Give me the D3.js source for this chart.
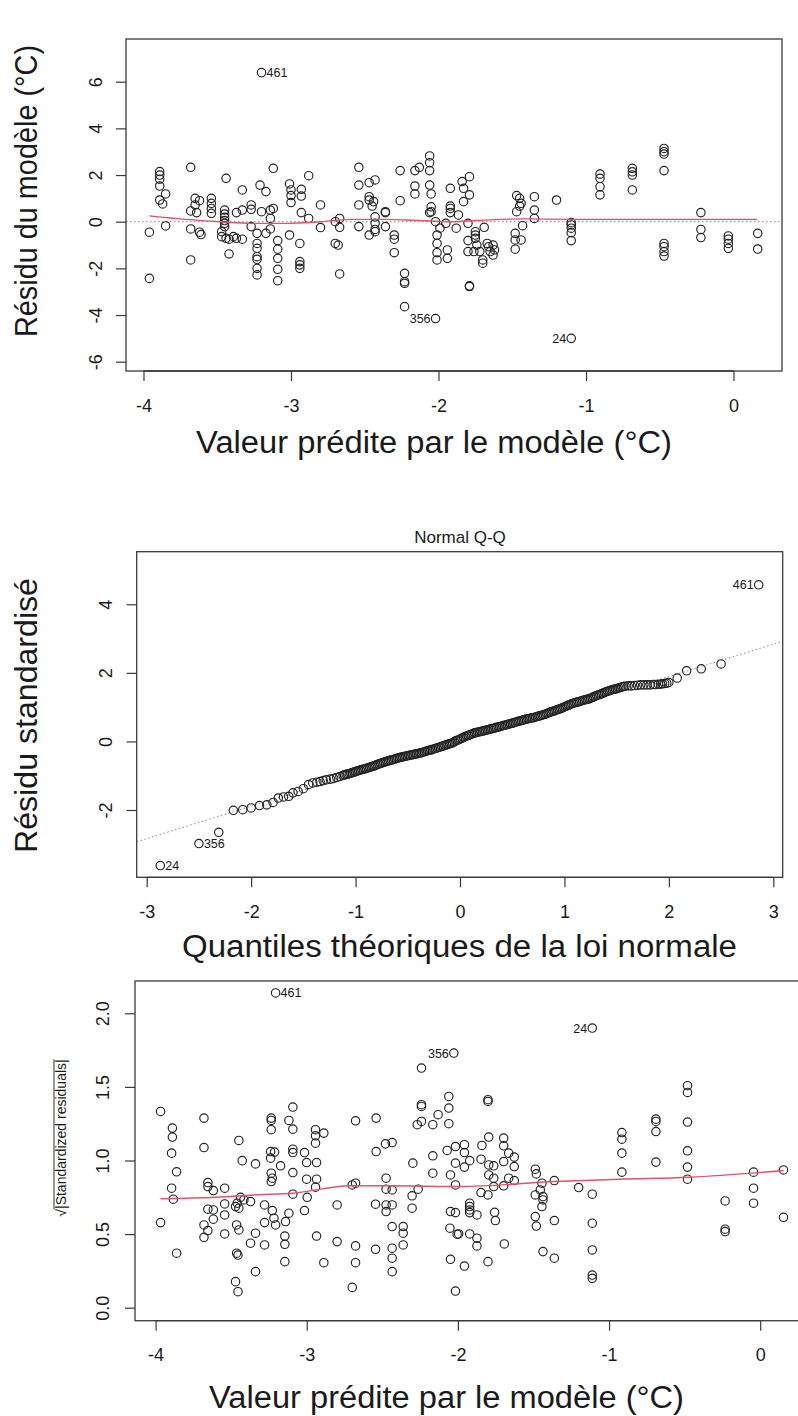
<!DOCTYPE html>
<html>
<head>
<meta charset="utf-8">
<script src="https://cdn.jsdelivr.net/npm/d3@7"></script>
<style>
  body { margin: 0; background: #fff; }
  svg { display: block; background: #fff; }
</style>
</head>
<body>
<svg id="chart" width="798" height="1416"></svg>
<script>
// ---- data ----
var fittedTicks = [-4, -3, -2, -1, 0];
var residTicks = [-6, -4, -2, 0, 2, 4, 6];
var qqTicksX = [-3, -2, -1, 0, 1, 2, 3];
var qqTicksY = [-2, 0, 2, 4];
var scaleTicks = [0, 0.5, 1, 1.5, 2];

// [fitted, residual]
var residPoints = [
  [-3.20, 6.39],
  [-3.96, -0.45], [-3.96, -2.43],
  [-3.89, 2.15], [-3.89, 2.00], [-3.89, 1.82], [-3.89, 1.53], [-3.85, 1.19], [-3.89, 0.93], [-3.87, 0.76], [-3.85, -0.18],
  [-3.68, 2.33],
  [-3.68, 0.46], [-3.65, 1.00], [-3.65, 0.72], [-3.62, 0.90], [-3.64, 0.39], [-3.68, -0.31], [-3.62, -0.45], [-3.61, -0.55], [-3.68, -1.64],
  [-3.54, 1.00], [-3.54, 0.79], [-3.54, 0.57], [-3.54, 0.36],
  [-3.44, 1.86],
  [-3.45, 0.50], [-3.45, 0.33], [-3.45, 0.19], [-3.45, 0.05], [-3.45, -0.07], [-3.45, -0.21], [-3.47, -0.43], [-3.47, -0.64],
  [-3.44, -0.71], [-3.42, -0.75], [-3.39, -0.64], [-3.37, -0.71], [-3.33, -0.75], [-3.37, 0.39], [-3.33, 0.50],
  [-3.42, -1.38], [-3.33, 1.36],
  [-3.27, 0.72], [-3.27, 0.53], [-3.27, -0.21], [-3.20, 0.43], [-3.21, 1.57], [-3.17, 1.29],
  [-3.23, -0.50], [-3.23, -0.93], [-3.23, -1.14], [-3.23, -1.50], [-3.23, -1.61], [-3.23, -2.00], [-3.23, -2.28],
  [-3.17, -0.50], [-3.14, -0.31], [-3.14, 0.50], [-3.12, 0.57], [-3.14, 0.14], [-3.12, 2.29],
  [-3.09, -0.81], [-3.09, -1.18], [-3.09, -1.57], [-3.09, -2.04], [-3.09, -2.53],
  [-3.01, 1.62], [-3.00, 1.36], [-3.00, 1.12], [-3.00, 0.82], [-2.93, 1.39], [-2.93, 1.10], [-2.88, 1.97], [-2.93, 0.39], [-2.88, 0.14],
  [-3.01, -0.57], [-2.94, -0.93], [-2.94, -1.71], [-2.94, -1.85], [-2.94, -2.00],
  [-2.80, 0.72], [-2.80, -0.25],
  [-2.70, 0.00], [-2.67, 0.14], [-2.67, -0.24], [-2.70, -0.93], [-2.68, -1.00], [-2.67, -2.24],
  [-2.54, 2.33], [-2.54, 1.57], [-2.47, 1.67], [-2.43, 1.79], [-2.54, 0.72], [-2.47, 1.07], [-2.47, 0.93], [-2.44, 0.86], [-2.45, 0.67],
  [-2.43, 0.21], [-2.43, -0.07], [-2.43, -0.33], [-2.47, -0.57], [-2.54, -0.21], [-2.36, 0.43], [-2.36, 0.39], [-2.36, -0.21], [-2.43, -0.43],
  [-2.30, -0.57], [-2.30, -0.75], [-2.30, -1.33],
  [-2.26, 2.19], [-2.26, 0.90],
  [-2.23, -2.21], [-2.23, -2.57], [-2.23, -2.64], [-2.23, -3.64],
  [-2.02, -4.15],
  [-2.16, 2.19], [-2.13, 2.33], [-2.16, 1.53], [-2.16, 1.19],
  [-2.06, 2.82], [-2.06, 2.53], [-2.06, 2.19], [-2.06, 1.57], [-2.05, 1.19], [-2.05, 0.64], [-2.05, 0.43], [-2.06, 0.39],
  [-2.02, 0.00], [-1.99, -0.28], [-2.01, -0.57], [-2.01, -0.93], [-2.01, -1.33], [-2.01, -1.64], [-1.94, -1.21], [-1.94, -1.57],
  [-1.95, -0.07], [-1.92, 1.43], [-1.92, 0.67], [-1.92, 0.57], [-1.92, 0.39], [-1.88, -0.28], [-1.865, 0.29],
  [-1.84, 1.72], [-1.83, 1.43], [-1.83, 0.86], [-1.79, 1.93], [-1.79, 1.15], [-1.80, -0.07], [-1.80, -0.81], [-1.80, -1.28],
  [-1.79, -2.75], [-1.79, -2.78],
  [-1.75, -0.43], [-1.75, -0.71], [-1.75, -0.57], [-1.74, -1.00], [-1.72, -1.28], [-1.70, -1.64], [-1.70, -1.78], [-1.69, -0.24],
  [-1.67, -0.93], [-1.66, -1.07], [-1.65, -1.28], [-1.63, -1.00], [-1.63, -1.43], [-1.62, -1.21], [-1.76, -1.28],
  [-1.47, 1.12], [-1.45, 1.00], [-1.44, 0.79], [-1.45, 0.67], [-1.47, 0.43], [-1.43, -0.17], [-1.48, -0.50], [-1.48, -0.78],
  [-1.48, -1.18], [-1.44, -0.78], [-1.35, 1.07], [-1.35, 0.50], [-1.35, 0.14],
  [-1.20, 0.93],
  [-1.10, -0.04], [-1.10, -0.14], [-1.10, -0.28], [-1.10, -0.47], [-1.10, -0.81],
  [-1.10, -5.00],
  [-0.905, 2.04], [-0.905, 1.86], [-0.905, 1.50], [-0.905, 1.15],
  [-0.686, 2.29], [-0.686, 2.14], [-0.686, 2.00], [-0.686, 1.36],
  [-0.471, 3.14], [-0.471, 3.00], [-0.471, 2.90], [-0.471, 2.19], [-0.471, -0.93], [-0.471, -1.07], [-0.471, -1.28], [-0.471, -1.47],
  [-0.221, 0.39], [-0.221, -0.33], [-0.221, -0.68],
  [-0.035, -0.61], [-0.035, -0.75], [-0.035, -0.93], [-0.035, -1.14],
  [0.164, -0.50], [0.164, -1.17]
];
var residLabels = [
  { x: -3.20, y: 6.39, text: '461', side: 'right' },
  { x: -2.02, y: -4.15, text: '356', side: 'left' },
  { x: -1.10, y: -5.00, text: '24', side: 'left' }
];
var residSmooth = [
  [-3.96, 0.25], [-3.71, 0.10], [-3.48, 0.00], [-3.26, -0.07], [-3.03, -0.07], [-2.80, 0.00], [-2.58, 0.10],
  [-2.35, 0.10], [-2.13, 0.05], [-1.90, 0.00], [-1.76, 0.05], [-1.43, 0.12], [-1.09, 0.10], [-0.63, 0.10], [0.16, 0.10]
];

// [theoretical quantile, standardized residual]
var qqPoints = [
  [-2.87, -3.62], [-2.50, -2.98], [-2.31, -2.65], [-2.17, -2.01], [-2.08, -1.99], [-2.00, -1.94], [-1.92, -1.87],
  [-1.85, -1.85], [-1.79, -1.78], [-1.74, -1.65], [-1.69, -1.62], [-1.64, -1.60], [-1.60, -1.50], [-1.55, -1.46],
  [-1.50, -1.38], [-1.45, -1.26], [-1.41, -1.21], [-1.37, -1.19], [-1.34, -1.17], [-1.31, -1.14], [-1.28, -1.12],
  [-1.24, -1.10], [-1.21, -1.08], [-1.18, -1.05], [-1.15, -1.02],
  [-1.12, -0.99], [-1.09, -0.96], [-1.06, -0.94], [-1.03, -0.91], [-1.00, -0.88], [-0.97, -0.85], [-0.94, -0.82],
  [-0.91, -0.80], [-0.88, -0.77], [-0.85, -0.74], [-0.82, -0.71], [-0.79, -0.67], [-0.76, -0.64], [-0.73, -0.61],
  [-0.70, -0.58], [-0.67, -0.55], [-0.64, -0.53], [-0.61, -0.50], [-0.58, -0.47], [-0.55, -0.45], [-0.52, -0.43],
  [-0.49, -0.41], [-0.46, -0.39], [-0.43, -0.37], [-0.40, -0.35], [-0.37, -0.33], [-0.34, -0.30], [-0.31, -0.27],
  [-0.28, -0.25], [-0.25, -0.22], [-0.22, -0.19], [-0.19, -0.16], [-0.16, -0.13], [-0.13, -0.10], [-0.10, -0.07],
  [-0.07, -0.04], [-0.04, 0.02], [-0.01, 0.05], [0.02, 0.10], [0.05, 0.14], [0.08, 0.18], [0.11, 0.21],
  [0.14, 0.25], [0.17, 0.27], [0.20, 0.29], [0.23, 0.31], [0.26, 0.34], [0.29, 0.36], [0.32, 0.38],
  [0.35, 0.41], [0.38, 0.43], [0.41, 0.46], [0.44, 0.48], [0.47, 0.51], [0.50, 0.53], [0.53, 0.56],
  [0.56, 0.59], [0.59, 0.61], [0.62, 0.64], [0.65, 0.66], [0.68, 0.68], [0.71, 0.70], [0.74, 0.73],
  [0.77, 0.75], [0.80, 0.78], [0.83, 0.81], [0.86, 0.85], [0.89, 0.88], [0.92, 0.91], [0.95, 0.945],
  [0.98, 0.98], [1.01, 1.02], [1.04, 1.06], [1.07, 1.10], [1.10, 1.13], [1.13, 1.15], [1.16, 1.18],
  [1.19, 1.21], [1.22, 1.23], [1.25, 1.26], [1.28, 1.30], [1.31, 1.34], [1.34, 1.37], [1.37, 1.41],
  [1.40, 1.45], [1.43, 1.48], [1.46, 1.51], [1.49, 1.53], [1.52, 1.56], [1.55, 1.59], [1.58, 1.61],
  [1.61, 1.62], [1.64, 1.62], [1.67, 1.63], [1.70, 1.64], [1.73, 1.65], [1.76, 1.65], [1.79, 1.65],
  [1.82, 1.65], [1.85, 1.66], [1.87, 1.66], [1.90, 1.67], [1.92, 1.67], [1.94, 1.68], [1.96, 1.69],
  [1.98, 1.70], [2.00, 1.72], [2.08, 1.85], [2.17, 2.06], [2.31, 2.12], [2.50, 2.26], [2.86, 4.57],
  // the dense middle of the band, read at finer spacing
  [-1.105, -0.975], [-1.075, -0.95], [-1.045, -0.925], [-1.015, -0.895], [-0.985, -0.865], [-0.955, -0.835],
  [-0.925, -0.81], [-0.895, -0.785], [-0.865, -0.755], [-0.835, -0.725], [-0.805, -0.69], [-0.775, -0.655],
  [-0.745, -0.625], [-0.715, -0.595], [-0.685, -0.565], [-0.655, -0.54], [-0.625, -0.515], [-0.595, -0.485],
  [-0.565, -0.46], [-0.535, -0.44], [-0.505, -0.42], [-0.475, -0.40], [-0.445, -0.38], [-0.415, -0.36],
  [-0.385, -0.34], [-0.355, -0.315], [-0.325, -0.285], [-0.295, -0.26], [-0.265, -0.235], [-0.235, -0.205],
  [-0.205, -0.175], [-0.175, -0.145], [-0.145, -0.115], [-0.115, -0.085], [-0.085, -0.055], [-0.055, -0.01],
  [-0.025, 0.035], [0.005, 0.075], [0.035, 0.12], [0.065, 0.16], [0.095, 0.195], [0.125, 0.23],
  [0.155, 0.26], [0.185, 0.28], [0.215, 0.30], [0.245, 0.325], [0.275, 0.35], [0.305, 0.37],
  [0.335, 0.395], [0.365, 0.42], [0.395, 0.445], [0.425, 0.47], [0.455, 0.495], [0.485, 0.52],
  [0.515, 0.545], [0.545, 0.575], [0.575, 0.60], [0.605, 0.625], [0.635, 0.65], [0.665, 0.67],
  [0.695, 0.69], [0.725, 0.715], [0.755, 0.74], [0.785, 0.765], [0.815, 0.795], [0.845, 0.83],
  [0.875, 0.865], [0.905, 0.895], [0.935, 0.93], [0.965, 0.96], [0.995, 1.00], [1.025, 1.04],
  [1.055, 1.08], [1.085, 1.115], [1.115, 1.14], [1.145, 1.165], [1.175, 1.195], [1.205, 1.22],
  [1.235, 1.245], [1.265, 1.28], [1.295, 1.32], [1.325, 1.355], [1.355, 1.39], [1.385, 1.43],
  [1.415, 1.465], [1.445, 1.495], [1.475, 1.52], [1.505, 1.545], [1.535, 1.575], [1.565, 1.60]
];
var qqLabels = [
  { x: -2.87, y: -3.62, text: '24', side: 'right' },
  { x: -2.50, y: -2.98, text: '356', side: 'right' },
  { x: 2.86, y: 4.57, text: '461', side: 'left' }
];
var qqLine = { intercept: 0.0, slope: 0.945 };

// [fitted, sqrt(|standardized residual|)]
var scalePoints = [
  [-3.206, 2.138], [-2.027, 1.73], [-1.111, 1.90],
  [-3.967, 1.333], [-3.967, 0.578],
  [-3.889, 1.220], [-3.889, 1.159], [-3.894, 1.05], [-3.861, 0.923], [-3.894, 0.812], [-3.883, 0.737], [-3.861, 0.37],
  [-3.68, 1.288], [-3.68, 1.088], [-3.654, 0.85], [-3.654, 0.823], [-3.618, 0.796], [-3.654, 0.669], [-3.618, 0.664],
  [-3.68, 0.562], [-3.654, 0.524], [-3.68, 0.478], [-3.618, 0.601], [-3.543, 0.812], [-3.543, 0.705], [-3.543, 0.63], [-3.543, 0.501],
  [-3.449, 1.136], [-3.427, 0.999], [-3.46, 0.71], [-3.438, 0.75], [-3.416, 0.732], [-3.471, 0.687], [-3.449, 0.676],
  [-3.372, 0.721], [-3.339, 0.977], [-3.464, 0.562], [-3.449, 0.528], [-3.464, 0.37], [-3.455, 0.358], [-3.471, 0.177],
  [-3.455, 0.109], [-3.372, 0.438], [-3.339, 0.506], [-3.339, 0.245],
  [-3.235, 1.288], [-3.235, 1.272], [-3.235, 1.209], [-3.239, 1.061], [-3.213, 1.057], [-3.239, 1.016], [-3.235, 0.914],
  [-3.228, 0.880], [-3.235, 0.857], [-3.173, 0.964], [-3.279, 0.698], [-3.228, 0.66], [-3.217, 0.608], [-3.206, 0.562],
  [-3.279, 0.578], [-3.279, 0.426],
  [-3.092, 1.363], [-3.118, 1.272], [-3.092, 1.213], [-3.092, 1.077], [-3.092, 1.054], [-3.092, 0.918], [-3.092, 0.771],
  [-3.118, 0.642], [-3.14, 0.585], [-3.145, 0.487], [-3.145, 0.431], [-3.145, 0.313],
  [-3.015, 1.054], [-3.001, 0.986], [-2.942, 1.209], [-2.942, 1.168], [-2.942, 1.118], [-2.887, 1.186], [-2.935, 0.986],
  [-3.001, 0.873], [-2.935, 0.873], [-2.942, 0.819], [-2.997, 0.75], [-3.015, 0.66], [-2.935, 0.487], [-2.887, 0.306],
  [-2.799, 0.698], [-2.799, 0.449],
  [-2.677, 1.27], [-2.699, 0.834], [-2.677, 0.846], [-2.677, 0.42], [-2.677, 0.306], [-2.699, 0.138],
  [-2.541, 1.288], [-2.541, 1.061], [-2.479, 1.113], [-2.435, 1.122], [-2.545, 0.703], [-2.475, 0.88], [-2.435, 0.8],
  [-2.475, 0.805], [-2.475, 0.698], [-2.435, 0.698], [-2.475, 0.653], [-2.435, 0.551], [-2.545, 0.397], [-2.435, 0.404],
  [-2.435, 0.336], [-2.435, 0.245],
  [-2.362, 0.551], [-2.362, 0.506], [-2.362, 0.426],
  [-2.298, 0.982], [-2.303, 0.76], [-2.303, 0.676], [-2.263, 0.805], [-2.269, 1.243], [-2.241, 1.628], [-2.241, 1.379],
  [-2.241, 1.367], [-2.241, 1.265], [-2.166, 1.243], [-2.131, 1.311],
  [-2.166, 1.032], [-2.166, 0.914], [-2.06, 1.435], [-2.06, 1.356], [-2.06, 1.25], [-2.071, 1.068], [-2.016, 1.095],
  [-2.016, 0.982], [-2.049, 0.902], [-2.016, 0.834], [-2.049, 0.653], [-2.016, 0.646], [-2.053, 0.54], [-2.005, 0.499],
  [-2.049, 0.329], [-2.016, 0.113],
  [-1.957, 1.107], [-1.957, 1.054], [-1.922, 0.999], [-1.957, 0.955], [-1.922, 0.646], [-1.922, 0.687], [-1.922, 0.71],
  [-1.922, 0.664], [-1.922, 0.501], [-1.995, 0.501], [-1.957, 0.283], [-1.874, 0.63], [-1.874, 0.472], [-1.874, 0.42],
  [-1.841, 1.102], [-1.847, 1.009], [-1.796, 1.159], [-1.801, 1.413], [-1.801, 1.401], [-1.796, 0.97], [-1.796, 0.902],
  [-1.763, 0.964], [-1.763, 0.88], [-1.763, 0.823], [-1.847, 0.782], [-1.801, 0.766], [-1.752, 0.592], [-1.757, 0.648],
  [-1.801, 0.313], [-1.697, 1.152], [-1.697, 1.1], [-1.664, 1.05], [-1.627, 1.023], [-1.627, 0.959], [-1.664, 0.88],
  [-1.627, 0.864], [-1.697, 0.993], [-1.697, 0.828], [-1.693, 0.433],
  [-1.488, 0.941], [-1.481, 0.909], [-1.444, 0.846], [-1.455, 0.8], [-1.488, 0.766], [-1.437, 0.755], [-1.437, 0.732],
  [-1.444, 0.687], [-1.488, 0.619], [-1.481, 0.555], [-1.362, 0.864], [-1.362, 0.592], [-1.437, 0.381], [-1.362, 0.336],
  [-1.201, 0.816],
  [-1.111, 0.771], [-1.111, 0.574], [-1.111, 0.392], [-1.111, 0.222], [-1.111, 0.2],
  [-0.915, 1.19], [-0.915, 1.145], [-0.915, 1.05], [-0.915, 0.921],
  [-0.690, 1.281], [-0.690, 1.265], [-0.690, 1.197], [-0.690, 0.989],
  [-0.481, 1.508], [-0.481, 1.462], [-0.481, 1.261], [-0.481, 1.066], [-0.481, 0.955], [-0.481, 0.873],
  [-0.232, 0.725], [-0.232, 0.533], [-0.232, 0.517],
  [-0.044, 0.921], [-0.044, 0.812], [-0.044, 0.71],
  [0.154, 0.936], [0.154, 0.614]
];
var scaleLabels = [
  { x: -3.206, y: 2.138, text: '461', side: 'right' },
  { x: -2.027, y: 1.73, text: '356', side: 'left' },
  { x: -1.111, y: 1.90, text: '24', side: 'left' }
];
var scaleSmooth = [
  [-3.967, 0.74], [-3.60, 0.75], [-3.35, 0.766], [-3.09, 0.778], [-2.71, 0.828], [-2.45, 0.828],
  [-1.98, 0.823], [-1.36, 0.857], [-0.93, 0.873], [-0.47, 0.886], [0.154, 0.932]
];

var fontFamily = "'Liberation Sans', Arial, Helvetica, sans-serif";
var ink = '#1a1a1a';
var frame = '#3a3a3a';
var smoothColor = '#df536b';

function panel(svg, opt) {

  var b = opt.box,
      x = d3.scaleLinear().domain(opt.xRef).range(opt.xPix),
      y = d3.scaleLinear().domain(opt.yRef).range(opt.yPix),
      g = svg.append('g'),
      clipId = 'clip-' + opt.id;

  g.append('clipPath').attr('id', clipId)
    .append('rect')
      .attr('x', b.left).attr('y', b.top)
      .attr('width', b.right - b.left).attr('height', b.bottom - b.top);

  var plot = g.append('g').attr('clip-path', 'url(#' + clipId + ')');

  // reference line (dotted)
  if (opt.refLine) {
    var x0 = x.invert(b.left), x1 = x.invert(b.right);
    plot.append('line')
        .attr('x1', x(x0)).attr('y1', y(opt.refLine.intercept + opt.refLine.slope * x0))
        .attr('x2', x(x1)).attr('y2', y(opt.refLine.intercept + opt.refLine.slope * x1))
        .attr('stroke', '#8a8a8a')
        .attr('stroke-width', 1)
        .attr('stroke-dasharray', '1.5,2.5');
  }

  plot.append('g')
    .selectAll('circle')
    .data(opt.points)
    .enter().append('circle')
      .attr('cx', function(d) { return x(d[0]); })
      .attr('cy', function(d) { return y(d[1]); })
      .attr('r', 4.2)
      .attr('fill', 'none')
      .attr('stroke', '#222')
      .attr('stroke-width', 1.15);

  if (opt.smooth) {
    plot.append('path')
        .datum(opt.smooth)
        .attr('fill', 'none')
        .attr('stroke', smoothColor)
        .attr('stroke-width', 1.4)
        .attr('d', d3.line()
          .x(function(d) { return x(d[0]); })
          .y(function(d) { return y(d[1]); })
          .curve(d3.curveMonotoneX));
  }

  g.append('g')
    .selectAll('text')
    .data(opt.labels)
    .enter().append('text')
      .attr('x', function(d) { return x(d.x) + (d.side === 'right' ? 5 : -5); })
      .attr('y', function(d) { return y(d.y) + 4.5; })
      .attr('text-anchor', function(d) { return d.side === 'right' ? 'start' : 'end'; })
      .attr('font-family', fontFamily)
      .attr('font-size', 12.5)
      .attr('fill', ink)
      .text(function(d) { return d.text; });

  g.append('rect')
      .attr('x', b.left).attr('y', b.top)
      .attr('width', b.right - b.left).attr('height', b.bottom - b.top)
      .attr('fill', 'none')
      .attr('stroke', frame)
      .attr('stroke-width', 1.3);

  // bottom axis
  var xa = g.append('g')
      .attr('transform', 'translate(0,' + b.bottom + ')')
      .call(d3.axisBottom(x).tickValues(opt.xTicks).tickSize(10).tickFormat(opt.xFormat));

  xa.select('.domain').remove();
  xa.attr('font-family', fontFamily).attr('font-size', 18);
  xa.selectAll('.tick line').attr('stroke', frame).attr('stroke-width', 1.2);
  xa.selectAll('.tick text').attr('y', 40.5).attr('dy', null).attr('fill', ink);
  xa.append('line')
      .attr('x1', x(opt.xTicks[0])).attr('x2', x(opt.xTicks[opt.xTicks.length - 1]))
      .attr('stroke', frame).attr('stroke-width', 1.3);

  // left axis, labels parallel to the axis
  var ya = g.append('g')
      .attr('transform', 'translate(' + b.left + ',0)')
      .call(d3.axisLeft(y).tickValues(opt.yTicks).tickSize(10).tickFormat(opt.yFormat));

  ya.select('.domain').remove();
  ya.attr('font-family', fontFamily).attr('font-size', 18);
  ya.selectAll('.tick line').attr('stroke', frame).attr('stroke-width', 1.2);
  ya.selectAll('.tick text')
      .attr('x', null).attr('dy', null)
      .attr('text-anchor', 'middle')
      .attr('fill', ink)
      .attr('transform', 'translate(' + (-opt.yLabelGap) + ',0) rotate(-90)');

  // axis titles
  g.append('text')
      .attr('x', opt.xTitle.x)
      .attr('y', opt.xTitle.y)
      .attr('text-anchor', 'middle')
      .attr('font-family', fontFamily)
      .attr('font-size', 31)
      .attr('fill', ink)
      .attr('textLength', opt.xTitle.width)
      .attr('lengthAdjust', 'spacingAndGlyphs')
      .text(opt.xTitle.text);

  if (opt.yTitle) {
    var yt = g.append('text')
        .attr('transform', 'translate(' + opt.yTitle.x + ',' + opt.yTitle.y + ') rotate(-90)')
        .attr('text-anchor', opt.yTitle.anchor)
        .attr('font-family', fontFamily)
        .attr('font-size', opt.yTitle.size)
        .attr('fill', ink)
        .text(opt.yTitle.text);
    if (opt.yTitle.width) {
      yt.attr('textLength', opt.yTitle.width).attr('lengthAdjust', 'spacingAndGlyphs');
    }
  }

  if (opt.title) {
    g.append('text')
        .attr('x', opt.title.x)
        .attr('y', opt.title.y)
        .attr('text-anchor', 'middle')
        .attr('font-family', fontFamily)
        .attr('font-size', 17)
        .attr('fill', ink)
        .text(opt.title.text);
  }

  return g;
}

function plain(d) { return String(d); }

var svg = d3.select('#chart');

panel(svg, {
  id: 'resid',
  box: { left: 126, top: 39, right: 782, bottom: 371 },
  xRef: [-4, 0], xPix: [143.5, 733.5],
  yRef: [-6, 6], yPix: [361.7, 81.7],
  xTicks: fittedTicks, yTicks: residTicks,
  xFormat: plain, yFormat: plain,
  yLabelGap: 24.5,
  points: residPoints,
  labels: residLabels,
  smooth: residSmooth,
  refLine: { intercept: 0, slope: 0 },
  xTitle: { text: 'Valeur prédite par le modèle (°C)', x: 434, y: 453, width: 476 },
  yTitle: { text: 'Résidu du modèle (°C)', x: 37, y: 337, anchor: 'start', size: 31, width: 292 }
});

panel(svg, {
  id: 'qq',
  box: { left: 136.7, top: 551.7, right: 782.7, bottom: 877.3 },
  xRef: [-3, 3], xPix: [146.7, 773.3],
  yRef: [-2, 4], yPix: [810, 604.3],
  xTicks: qqTicksX, yTicks: qqTicksY,
  xFormat: plain, yFormat: plain,
  yLabelGap: 25,
  points: qqPoints,
  labels: qqLabels,
  refLine: qqLine,
  title: { text: 'Normal Q-Q', x: 460, y: 543 },
  xTitle: { text: 'Quantiles théoriques de la loi normale', x: 459.5, y: 957, width: 555 },
  yTitle: { text: 'Résidu standardisé', x: 37, y: 853, anchor: 'start', size: 31, width: 275 }
});

var scaleG = panel(svg, {
  id: 'scale',
  box: { left: 135, top: 981, right: 808, bottom: 1320.7 },
  xRef: [-4, 0], xPix: [155.6, 760.2],
  yRef: [0, 2], yPix: [1307.7, 1013.3],
  xTicks: fittedTicks, yTicks: scaleTicks,
  xFormat: plain, yFormat: d3.format('.1f'),
  yLabelGap: 26,
  points: scalePoints,
  labels: scaleLabels,
  smooth: scaleSmooth,
  xTitle: { text: 'Valeur prédite par le modèle (°C)', x: 446.5, y: 1408, width: 475 }
});

// sqrt(|Standardized residuals|) label with its overbar
var sq = scaleG.append('g')
    .attr('transform', 'translate(66,1138) rotate(-90)')
    .attr('font-family', fontFamily)
    .attr('font-size', 14)
    .attr('fill', ink);

var sqText = sq.append('text').attr('text-anchor', 'middle');
sqText.append('tspan').attr('class', 'root').text('√');
sqText.append('tspan').text('|Standardized residuals|');

var fullW = sqText.node().getComputedTextLength(),
    rootW = sqText.select('.root').node().getComputedTextLength();

sq.append('line')
    .attr('x1', -fullW / 2 + rootW - 0.5)
    .attr('x2', fullW / 2)
    .attr('y1', -12)
    .attr('y2', -12)
    .attr('stroke', ink)
    .attr('stroke-width', 0.9);
</script>
</body>
</html>
